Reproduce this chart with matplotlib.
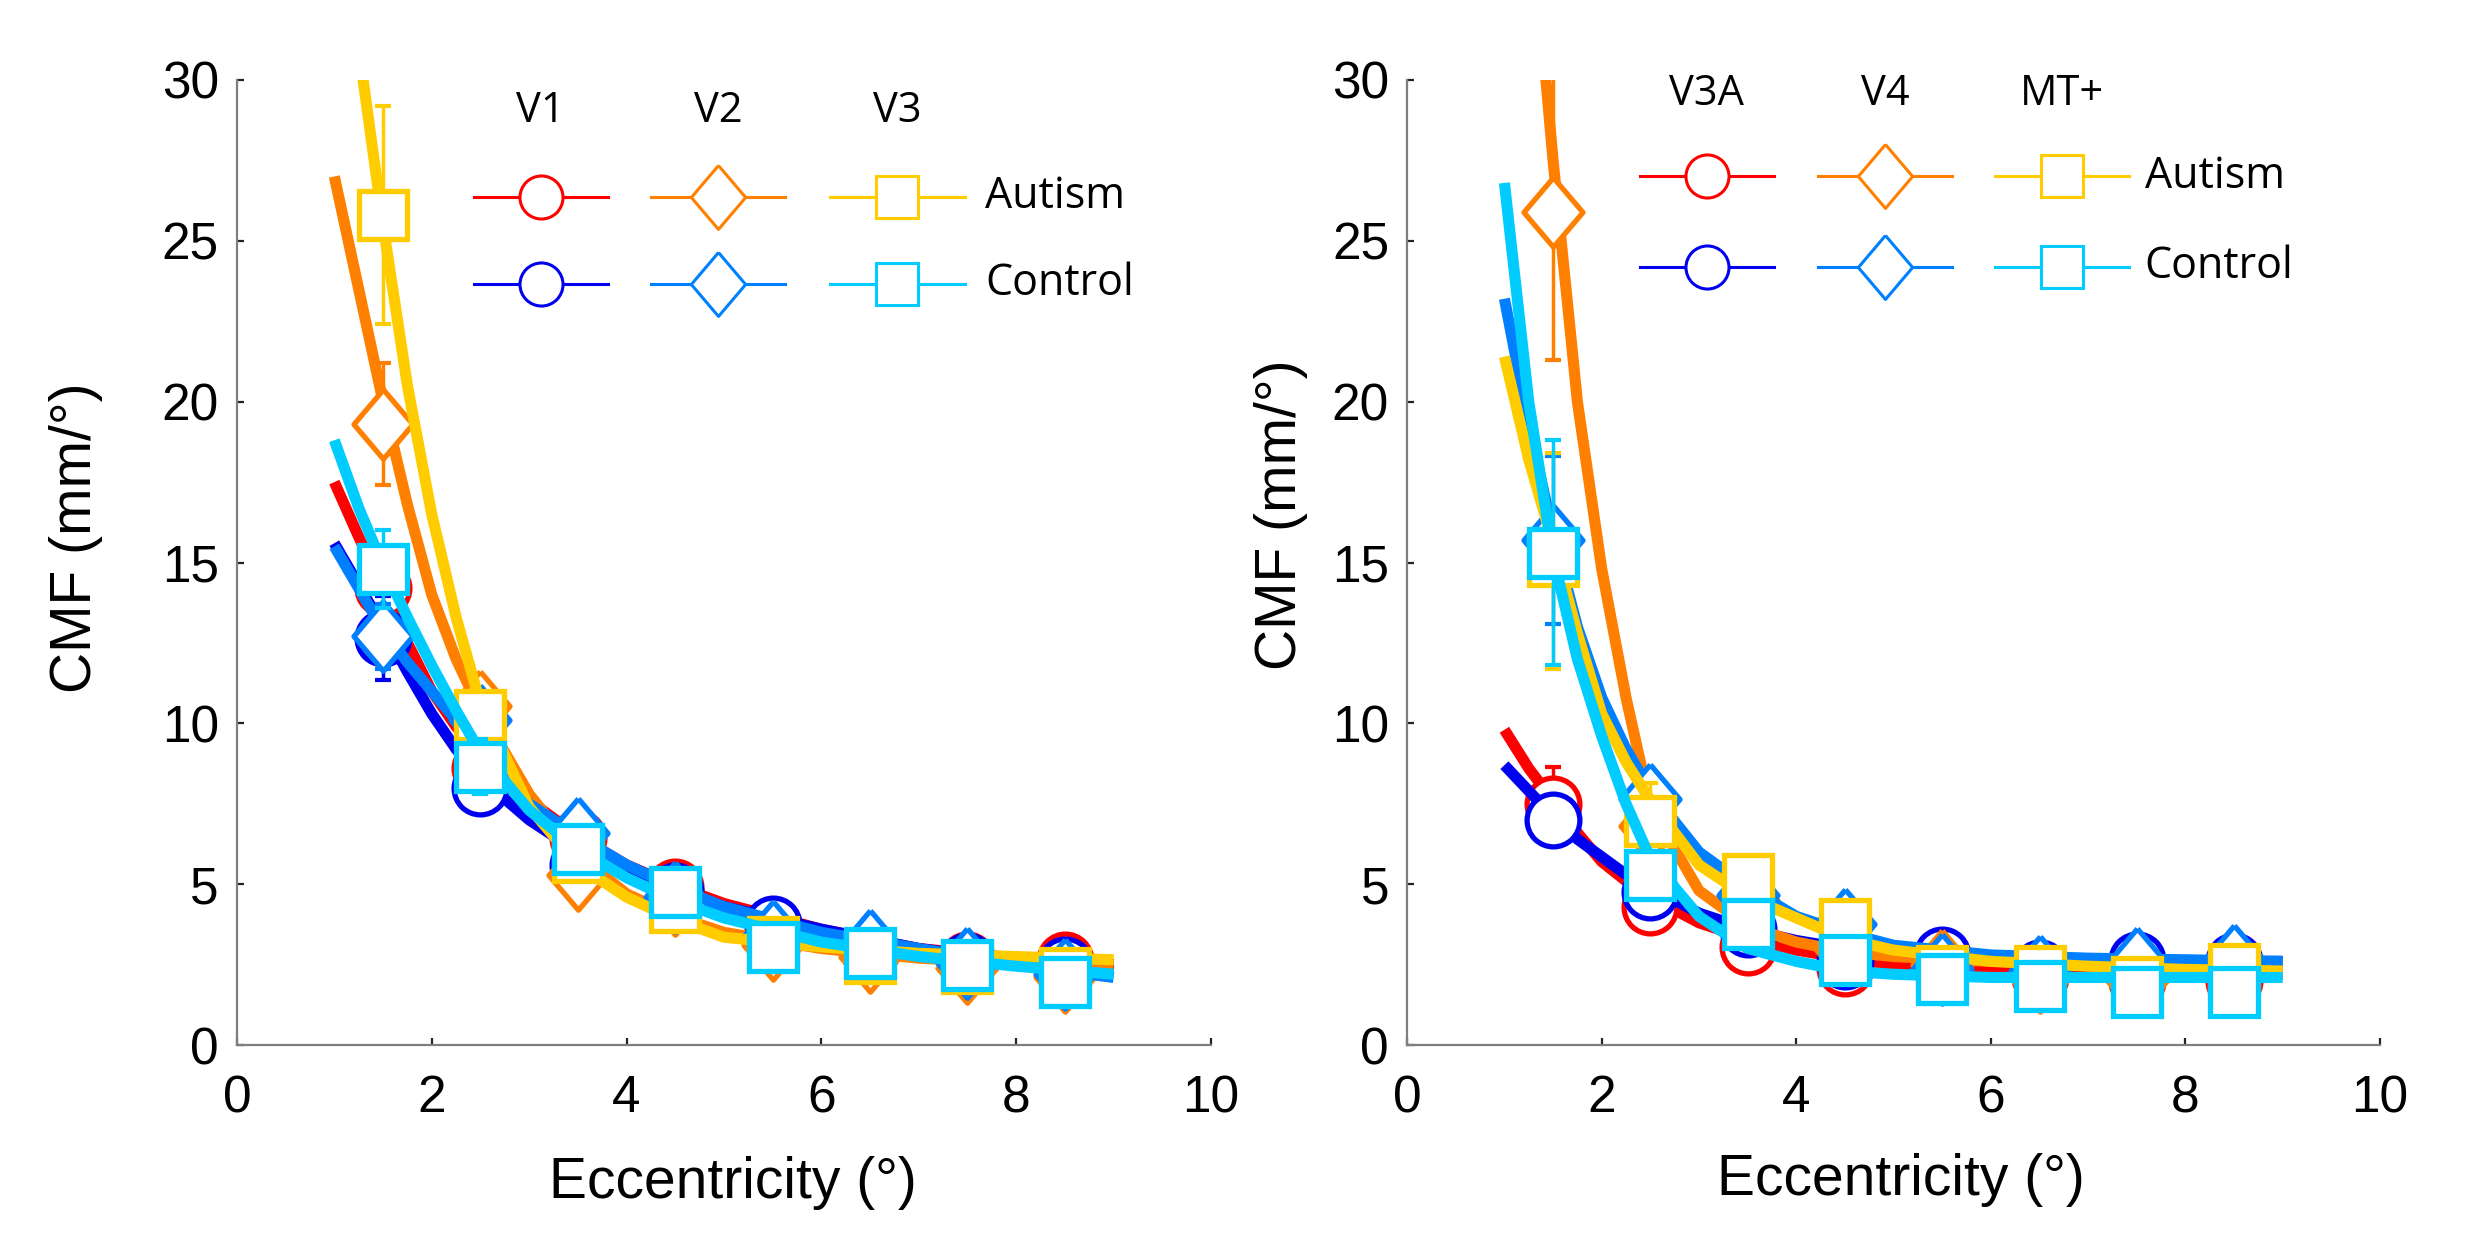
import numpy as np
import matplotlib
matplotlib.use("Agg")
import matplotlib.pyplot as plt

# ---------------- data ----------------
ecc = [1.5, 2.5, 3.5, 4.5, 5.5, 6.5, 7.5, 8.5]
fit_x = [1.0, 1.25, 1.5, 1.75, 2.0, 2.25, 2.5, 3.0, 3.5, 4.0, 4.5, 5.0, 6.0, 7.0, 8.0, 9.0]

# left panel: V1, V2, V3
V1_aut = [14.2, 8.6, 6.45, 4.9, 3.7, 2.85, 2.65, 2.65]
V1_ctl = [12.65, 8.0, 5.6, 4.8, 3.75, 2.85, 2.6, 2.5]
V2_aut = [19.3, 10.55, 5.3, 4.5, 3.1, 2.75, 2.4, 2.1]
V2_ctl = [12.7, 10.1, 6.6, 4.6, 3.4, 3.1, 2.55, 2.2]
V3_aut = [25.8, 10.25, 5.85, 4.3, 3.2, 2.7, 2.4, 2.25]
V3_ctl = [14.8, 8.65, 6.1, 4.75, 3.05, 2.85, 2.5, 1.95]

V1_aut_err = [1.0, 0.6, 0.5, 0.4, 0.3, 0.3, 0.3, 0.3]
V1_ctl_err = [1.3, 0.6, 0.5, 0.4, 0.3, 0.3, 0.3, 0.3]
V2_aut_err = [1.9, 0.6, 0.5, 0.4, 0.3, 0.3, 0.3, 0.3]
V2_ctl_err = [1.0, 0.6, 0.5, 0.4, 0.3, 0.3, 0.3, 0.3]
V3_aut_err = [3.4, 0.6, 0.5, 0.4, 0.3, 0.3, 0.3, 0.3]
V3_ctl_err = [1.2, 0.85, 0.5, 0.4, 0.3, 0.3, 0.3, 0.3]

V1_aut_fit = [17.5, 15.8, 14.2, 12.5, 11.0, 9.9, 9.0, 7.6, 6.5, 5.6, 4.95, 4.4, 3.6, 3.0, 2.7, 2.5]
V1_ctl_fit = [15.6, 14.3, 13.0, 11.6, 10.3, 9.2, 8.3, 7.0, 6.0, 5.3, 4.8, 4.3, 3.6, 3.0, 2.6, 2.3]
V2_aut_fit = [27.0, 23.5, 20.0, 16.8, 14.0, 12.0, 10.4, 7.8, 5.9, 4.7, 4.0, 3.5, 3.0, 2.7, 2.55, 2.45]
V2_ctl_fit = [15.5, 14.2, 12.9, 11.9, 11.0, 10.1, 9.2, 7.5, 6.5, 5.6, 4.9, 4.3, 3.5, 3.0, 2.5, 2.1]
V3_aut_fit = [40.0, 31.0, 25.5, 20.5, 16.5, 13.3, 10.6, 7.4, 5.6, 4.6, 3.9, 3.35, 3.05, 2.85, 2.75, 2.65]
V3_ctl_fit = [18.8, 16.7, 14.9, 13.3, 11.8, 10.4, 9.1, 7.3, 6.1, 5.2, 4.5, 3.95, 3.2, 2.75, 2.45, 2.2]

# right panel: V3A, V4, MT+
V3A_aut = [7.5, 4.3, 3.05, 2.4, 2.5, 2.1, 2.0, 2.0]
V3A_ctl = [7.0, 4.75, 3.6, 2.6, 2.8, 2.4, 2.65, 2.6]
V4_aut = [25.9, 6.8, 4.5, 3.0, 2.5, 2.1, 2.0, 2.3]
V4_ctl = [15.7, 7.65, 4.65, 3.75, 2.35, 2.3, 2.55, 2.65]
MT_aut = [15.05, 6.95, 5.15, 3.75, 2.3, 2.3, 1.95, 2.35]
MT_ctl = [15.3, 5.3, 3.75, 2.65, 2.05, 1.85, 1.65, 1.65]

V3A_aut_err = [1.15, 0.5, 0.4, 0.3, 0.3, 0.3, 0.3, 0.3]
V3A_ctl_err = [0.6, 0.5, 0.4, 0.3, 0.3, 0.3, 0.3, 0.3]
V4_aut_err = [4.6, 0.6, 0.4, 0.3, 0.3, 0.3, 0.3, 0.3]
V4_ctl_err = [2.6, 0.6, 0.4, 0.3, 0.3, 0.3, 0.3, 0.3]
MT_aut_err = [3.35, 1.2, 0.4, 0.3, 0.3, 0.3, 0.3, 0.3]
MT_ctl_err = [3.5, 0.6, 0.4, 0.3, 0.3, 0.3, 0.3, 0.3]

V3A_aut_fit = [9.8, 8.6, 7.6, 6.6, 5.7, 5.1, 4.6, 3.8, 3.3, 2.95, 2.7, 2.5, 2.35, 2.3, 2.25, 2.2]
V3A_ctl_fit = [8.7, 7.9, 7.1, 6.4, 5.85, 5.3, 4.9, 4.1, 3.6, 3.25, 3.0, 2.85, 2.7, 2.65, 2.6, 2.6]
V4_aut_fit = [45.0, 36.0, 27.5, 20.0, 14.8, 10.8, 7.4, 4.8, 3.7, 3.2, 2.9, 2.75, 2.6, 2.55, 2.55, 2.5]
V4_ctl_fit = [23.2, 19.3, 15.9, 13.0, 10.8, 9.2, 7.9, 6.0, 4.9, 4.0, 3.5, 3.1, 2.8, 2.7, 2.65, 2.6]
MT_aut_fit = [21.4, 18.2, 15.6, 12.8, 10.3, 8.8, 7.6, 5.6, 4.6, 3.95, 3.3, 2.95, 2.6, 2.45, 2.35, 2.3]
MT_ctl_fit = [26.8, 20.0, 15.2, 12.0, 9.6, 7.5, 5.8, 4.0, 3.0, 2.6, 2.3, 2.2, 2.1, 2.1, 2.1, 2.1]

left_names = ['V1', 'V2', 'V3']
right_names = ['V3A', 'V4', 'MT+']
groups = ['Autism', 'Control']

# ---------------- style ----------------
RED, BLUE = '#FF0000', '#0000F0'
ORANGE, DBLUE = '#FF8000', '#0080FF'
YELLOW, CYAN = '#FFCC00', '#00CCFF'

axis_font = 'Liberation Sans'
legend_font = 'Open Sans'

diamond = [(0, 1), (0.85, 0), (0, -1), (-0.85, 0), (0, 1)]
markers = ['o', diamond, 's']
msizes = [38, 50, 34]
legend_ms = [31, 46, 30]

fig = plt.figure(figsize=(24.73, 12.42), dpi=100)
ax1 = fig.add_axes([0.0958, 0.1586, 0.3939, 0.777])
ax2 = fig.add_axes([0.5690, 0.1586, 0.3934, 0.777])


def draw_panel(ax, series, names, leg, ylab_pos, xlab_pos):
    for fit, vals, errs, col, mi in series:
        ax.plot(fit_x, fit, color=col, lw=8, solid_capstyle='butt', zorder=2)
        ax.errorbar(ecc, vals, yerr=errs, fmt='none', ecolor=col, elinewidth=2.5,
                    capsize=6, capthick=3, zorder=2)
        ax.plot(ecc, vals, ls='none', marker=markers[mi], ms=msizes[mi],
                mfc='white', mec=col, mew=3.8, zorder=2)

    ax.set_xlim(0, 10)
    ax.set_ylim(0, 30)
    ax.set_xticks([0, 2, 4, 6, 8, 10])
    ax.set_yticks([0, 5, 10, 15, 20, 25, 30])
    for s in ['top', 'right']:
        ax.spines[s].set_visible(False)
    for s in ['left', 'bottom']:
        ax.spines[s].set_color('#7f7f7f')
        ax.spines[s].set_linewidth(1.6)
    ax.tick_params(direction='in', length=5, width=1.6, color='#222222', labelsize=37)
    ax.tick_params(axis='x', pad=21)
    ax.tick_params(axis='y', pad=13)
    for lab in ax.get_xticklabels() + ax.get_yticklabels():
        lab.set_fontfamily(axis_font)
    ax.set_xlabel('Eccentricity (°)', fontsize=41, family=axis_font)
    ax.set_ylabel('CMF (mm/°)', fontsize=41, family=axis_font)
    ax.yaxis.set_label_coords(*ylab_pos)
    ax.xaxis.set_label_coords(*xlab_pos)
    ax.yaxis.label.set_va('center')
    ax.xaxis.label.set_va('center')

    # legend laid out as a grid: area headers on top, groups on the right
    hy, row_y, cols, lab_x = leg
    cols_col = [(RED, BLUE), (ORANGE, DBLUE), (YELLOW, CYAN)]
    for j, (x0, x1) in enumerate(cols):
        xc = (x0 + x1) / 2
        ax.text(xc, hy, names[j], transform=ax.transAxes, ha='center', va='center',
                fontsize=30, family=legend_font)
        for r in range(2):
            ax.plot([x0, x1], [row_y[r], row_y[r]], transform=ax.transAxes,
                    color=cols_col[j][r], lw=2.2, clip_on=False, zorder=5)
            ax.plot([xc], [row_y[r]], transform=ax.transAxes, marker=markers[j],
                    ms=legend_ms[j], mfc='white', mec=cols_col[j][r], mew=2.2,
                    clip_on=False, zorder=6)
    for r in range(2):
        ax.text(lab_x, row_y[r], groups[r], transform=ax.transAxes, ha='left',
                va='center', fontsize=31, family=legend_font)


left_series = [
    (V1_aut_fit, V1_aut, V1_aut_err, RED, 0),
    (V1_ctl_fit, V1_ctl, V1_ctl_err, BLUE, 0),
    (V2_aut_fit, V2_aut, V2_aut_err, ORANGE, 1),
    (V2_ctl_fit, V2_ctl, V2_ctl_err, DBLUE, 1),
    (V3_aut_fit, V3_aut, V3_aut_err, YELLOW, 2),
    (V3_ctl_fit, V3_ctl, V3_ctl_err, CYAN, 2),
]
right_series = [
    (V3A_aut_fit, V3A_aut, V3A_aut_err, RED, 0),
    (V3A_ctl_fit, V3A_ctl, V3A_ctl_err, BLUE, 0),
    (V4_aut_fit, V4_aut, V4_aut_err, ORANGE, 1),
    (V4_ctl_fit, V4_ctl, V4_ctl_err, DBLUE, 1),
    (MT_aut_fit, MT_aut, MT_aut_err, YELLOW, 2),
    (MT_ctl_fit, MT_ctl, MT_ctl_err, CYAN, 2),
]

draw_panel(ax1, left_series, left_names,
           (0.968, [0.879, 0.789], [(0.243, 0.381), (0.425, 0.563), (0.609, 0.747)], 0.768),
           (-0.165, 0.526), (0.509, -0.143))
draw_panel(ax2, right_series, right_names,
           (0.985, [0.900, 0.806], [(0.239, 0.377), (0.422, 0.560), (0.604, 0.742)], 0.758),
           (-0.13, 0.55), (0.507, -0.14))

fig.savefig('out.png', dpi=100)
